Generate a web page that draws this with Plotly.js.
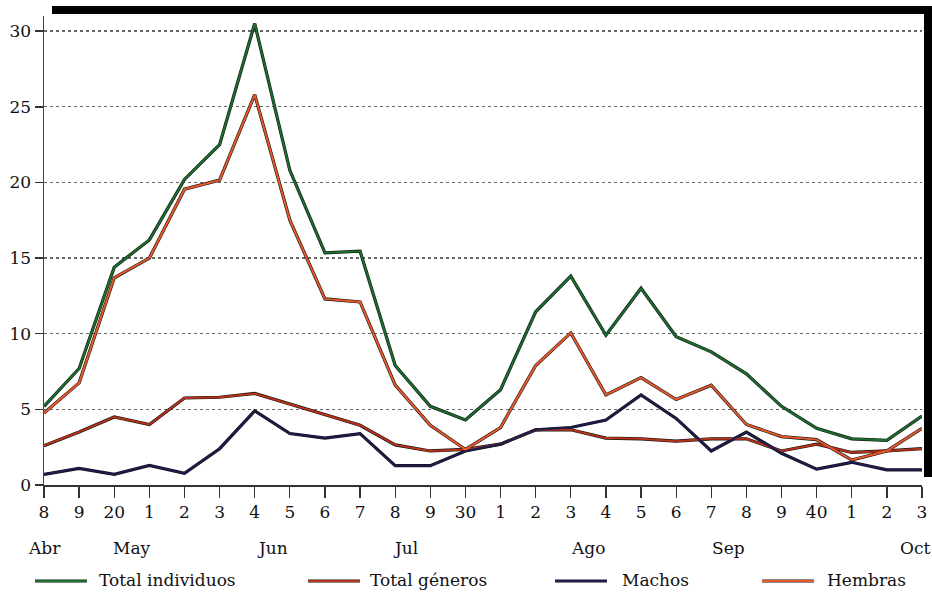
<!DOCTYPE html>
<html>
<head>
<meta charset="utf-8">
<script src="https://cdn.plot.ly/plotly-3.0.1.min.js"></script>
<style>
  html, body { margin: 0; padding: 0; background: #fff; }
  #chart { width: 932px; height: 593px; }
</style>
</head>
<body>
<div id="chart"></div>
<script>
// Sampling dates (day of month) along the season
const dayLabels = ['8','9','20','1','2','3','4','5','6','7','8','9','30','1','2','3','4','5','6','7','8','9','40','1','2','3'];
const monthLabels = ['Abr','May','Jun','Jul','Ago','Sep','Oct'];
const monthPositions = [0, 2.5, 6.5, 10.3, 15.5, 19.5, 25];

// Series
const totalIndividuos = [5.2, 7.7, 14.4, 16.2, 20.2, 22.5, 30.5, 20.8, 15.35, 15.45, 7.9, 5.2, 4.3, 6.3, 11.45, 13.8, 9.9, 13.0, 9.8, 8.8, 7.35, 5.2, 3.75, 3.05, 2.95, 4.55];
const totalGeneros    = [2.6, 3.5, 4.5, 4.0, 5.75, 5.8, 6.05, 5.35, 4.6, 3.95, 2.65, 2.25, 2.35, 2.7, 3.65, 3.65, 3.1, 3.05, 2.9, 3.05, 3.05, 2.25, 2.7, 2.15, 2.25, 2.4];
const machos          = [0.7, 1.1, 0.7, 1.3, 0.77, 2.4, 4.9, 3.4, 3.1, 3.4, 1.28, 1.28, 2.25, 2.7, 3.65, 3.8, 4.3, 5.95, 4.4, 2.25, 3.5, 2.1, 1.05, 1.5, 1.0, 1.0];
const hembras         = [4.75, 6.75, 13.7, 15.0, 19.55, 20.15, 25.8, 17.5, 12.3, 12.1, 6.6, 3.95, 2.35, 3.8, 7.9, 10.05, 5.95, 7.1, 5.65, 6.6, 4.0, 3.2, 3.0, 1.65, 2.25, 3.75];

const seriesNames  = ['Total individuos', 'Total géneros', 'Machos', 'Hembras'];
const seriesValues = [totalIndividuos, totalGeneros, machos, hembras];
const seriesColors = ['#1a6e2e', '#b8321a', '#1c1c4e', '#e8582a'];

const xIdx = dayLabels.map((_, i) => i);
const FONT = 'DejaVu Serif';

const traces = [];
// dark underlay gives each printed line its inked edge
seriesValues.forEach((vals) => {
  traces.push({
    x: xIdx, y: vals, type: 'scatter', mode: 'lines',
    line: { color: '#151515', width: 3.2 }, hoverinfo: 'skip', showlegend: false
  });
});
seriesValues.forEach((vals, k) => {
  traces.push({
    x: xIdx, y: vals, type: 'scatter', mode: 'lines', name: seriesNames[k],
    line: { color: seriesColors[k], width: 2.0 }, showlegend: false
  });
});

// helpers to place things in pixel terms relative to the plot box
const L = 44, R = 922, T = 16, B = 485;
const px = v => (v - L) / (R - L);
const py = v => (B - v) / (B - T);

const annotations = monthLabels.map((m, i) => ({
  x: monthPositions[i], y: py(548), xref: 'x', yref: 'paper',
  text: m, showarrow: false,
  xanchor: i === monthLabels.length - 1 ? 'right' : 'center',
  xshift: i === monthLabels.length - 1 ? 10 : 0,
  yanchor: 'middle',
  font: { family: FONT, size: 17, color: '#111' }
}));

const shapes = [
  // heavy frame on top and right
  { type: 'rect', xref: 'paper', yref: 'paper', x0: px(52), x1: px(932), y0: py(14), y1: py(6),
    fillcolor: '#000', line: { width: 0 } },
  { type: 'rect', xref: 'paper', yref: 'paper', x0: px(924), x1: px(932), y0: py(477), y1: py(6),
    fillcolor: '#000', line: { width: 0 } }
];

// key below the axis
const keySamples = [35, 308, 555, 762];
const keyText    = [97, 368, 620, 825];
seriesNames.forEach((n, k) => {
  shapes.push({ type: 'line', xref: 'paper', yref: 'paper',
    x0: px(keySamples[k]), x1: px(keySamples[k] + 52), y0: py(581), y1: py(581),
    line: { color: '#151515', width: 3.2 } });
  shapes.push({ type: 'line', xref: 'paper', yref: 'paper',
    x0: px(keySamples[k]), x1: px(keySamples[k] + 52), y0: py(581), y1: py(581),
    line: { color: seriesColors[k], width: 2.0 } });
  annotations.push({ x: px(keyText[k]), y: py(580), xref: 'paper', yref: 'paper',
    text: n, showarrow: false, xanchor: 'left', yanchor: 'middle',
    font: { family: FONT, size: 17, color: '#111' } });
});

const layout = {
  width: 932, height: 593,
  margin: { l: L, r: 932 - R, t: T, b: 593 - B },
  paper_bgcolor: '#fff', plot_bgcolor: '#fff',
  showlegend: false,
  font: { family: FONT, size: 17, color: '#111' },
  xaxis: {
    range: [0, 25], tickvals: xIdx, ticktext: dayLabels,
    ticks: 'outside', ticklen: 11, tickwidth: 1.3, tickcolor: '#333',
    showline: true, linecolor: '#333', linewidth: 1.5,
    showgrid: false, zeroline: false,
    tickfont: { family: FONT, size: 17, color: '#111' }
  },
  yaxis: {
    range: [0, 31], tickvals: [0, 5, 10, 15, 20, 25, 30],
    ticks: 'outside', ticklen: 8, tickwidth: 1.5, tickcolor: '#333',
    showline: true, linecolor: '#444', linewidth: 1.5,
    showgrid: true, gridcolor: '#666', gridwidth: 1.3, griddash: 'dot',
    zeroline: false,
    tickfont: { family: FONT, size: 17, color: '#111' }
  },
  shapes: shapes,
  annotations: annotations
};

Plotly.newPlot('chart', traces, layout, { displayModeBar: false, staticPlot: true });
</script>
</body>
</html>
